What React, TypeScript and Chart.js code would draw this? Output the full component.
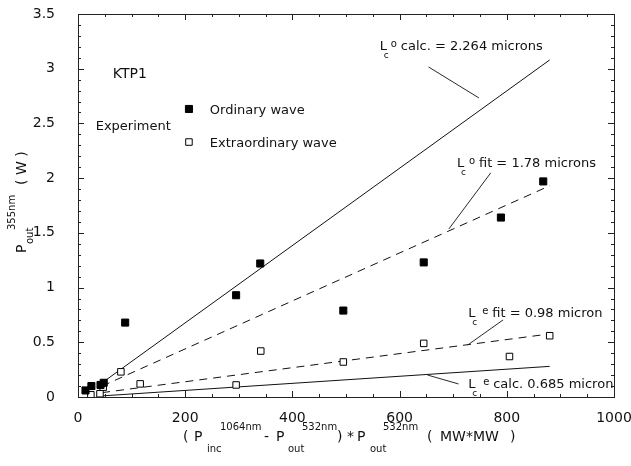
import React, { useEffect, useRef } from "react";
import { Chart, registerables } from "chart.js";
Chart.register(...registerables);

// ---- data ----
const ordinaryX = [14, 25, 42, 48, 88, 295, 340, 495, 645, 789, 868];
const ordinaryY = [0.06, 0.1, 0.11, 0.13, 0.68, 0.93, 1.22, 0.79, 1.23, 1.64, 1.97];
const extraX = [24, 41, 47, 80, 116, 295, 341, 495, 645, 805, 880];
const extraY = [0.02, 0.03, 0.09, 0.23, 0.12, 0.11, 0.42, 0.32, 0.49, 0.37, 0.56];

const calcOX = [45, 880];
const calcOY = [0.13, 3.08];
const fitOX = [45, 880];
const fitOY = [0.1, 1.93];
const fitEX = [45, 870];
const fitEY = [0.04, 0.57];
const calcEX = [45, 880];
const calcEY = [0.01, 0.28];

const leader1X = [654, 748];
const leader1Y = [3.016, 2.733];
const leader2X = [770, 692];
const leader2Y = [2.048, 1.536];
const leader3X = [793, 727];
const leader3Y = [0.704, 0.475];
const leader4X = [652, 710];
const leader4Y = [0.201, 0.119];

const legendX = [207];
const legendOrdY = [2.632];
const legendExtY = [2.33];

const xTickLabels = ["0", "200", "400", "600", "800", "1000"];
const yTickLabels = ["0", "0.5", "1", "1.5", "2", "2.5", "3", "3.5"];

const FONT = "'DejaVu Sans', Verdana, sans-serif";
const INK = "#111";

const zip = (xs: number[], ys: number[]) => xs.map((x, i) => ({ x, y: ys[i] }));

function txt(ctx: CanvasRenderingContext2D, s: string, x: number, y: number, size: number) {
  ctx.font = `${size}px ${FONT}`;
  ctx.fillText(s, x, y);
}

const decorPlugin = {
  id: "decor",
  afterDraw(chart: any) {
    const ctx: CanvasRenderingContext2D = chart.ctx;
    const { left, right, top, bottom } = chart.chartArea;
    const xs = chart.scales.x;
    const ys = chart.scales.y;
    ctx.save();
    ctx.strokeStyle = "#222";
    ctx.lineWidth = 1;
    // frame
    ctx.strokeRect(Math.round(left) + 0.5, Math.round(top) + 0.5, Math.round(right - left), Math.round(bottom - top));
    // ticks
    ctx.beginPath();
    for (let v = 0; v <= 1000; v += 50) {
      const px = Math.round(xs.getPixelForValue(v)) + 0.5;
      const len = v % 200 === 0 ? 6 : 3;
      ctx.moveTo(px, bottom);
      ctx.lineTo(px, bottom - len);
      ctx.moveTo(px, top);
      ctx.lineTo(px, top + len);
    }
    for (let k = 0; k <= 35; k++) {
      const py = Math.round(ys.getPixelForValue(k / 10)) + 0.5;
      const len = k % 5 === 0 ? 6 : 3;
      ctx.moveTo(left, py);
      ctx.lineTo(left + len, py);
      ctx.moveTo(right, py);
      ctx.lineTo(right - len, py);
    }
    ctx.stroke();

    ctx.fillStyle = INK;
    ctx.textBaseline = "alphabetic";
    ctx.textAlign = "left";
    const P = (x: number, y: number) => [xs.getPixelForValue(x), ys.getPixelForValue(y)];

    // free labels
    let [kx, ky] = P(65, 2.915);
    txt(ctx, "KTP1", kx, ky, 14);
    [kx, ky] = P(33, 2.44);
    txt(ctx, "Experiment", kx, ky, 13);
    [kx, ky] = P(246, 2.59);
    txt(ctx, "Ordinary wave", kx, ky, 13);
    [kx, ky] = P(246, 2.285);
    txt(ctx, "Extraordinary wave", kx, ky, 13);

    // Lc labels
    const lc = (dx: number, dy: number, sup: string, rest: string, off: number) => {
      const [x, y] = P(dx, dy);
      txt(ctx, "L", x, y, 13);
      txt(ctx, "c", x + 4, y + 8, 9);
      txt(ctx, sup, x + off - 10, y - 3, 10);
      txt(ctx, rest, x + off, y, 13);
    };
    lc(563, 3.171, "o", "calc. = 2.264 microns", 21);
    lc(707, 2.102, "o", "fit = 1.78 microns", 22);
    lc(728, 0.731, "e", "fit = 0.98 micron", 24);
    lc(728, 0.082, "e", "calc. 0.685 micron", 25);

    // x axis title
    const mb = 441, sb = 452, pb = 430;
    txt(ctx, "(", 183, mb, 14);
    txt(ctx, "P", 194, mb, 14);
    txt(ctx, "inc", 207, sb, 10);
    txt(ctx, "1064nm", 220, pb, 10);
    txt(ctx, "-", 264, mb, 14);
    txt(ctx, "P", 276, mb, 14);
    txt(ctx, "out", 288, sb, 10);
    txt(ctx, "532nm", 302, pb, 10);
    txt(ctx, ")", 337, mb, 14);
    txt(ctx, "*", 347, mb, 14);
    txt(ctx, "P", 357, mb, 14);
    txt(ctx, "out", 370, sb, 10);
    txt(ctx, "532nm", 383, pb, 10);
    txt(ctx, "(", 427, mb, 14);
    txt(ctx, "MW*MW", 440, mb, 14);
    txt(ctx, ")", 510, mb, 14);

    // y axis title (rotated)
    ctx.translate(26, 253);
    ctx.rotate(-Math.PI / 2);
    txt(ctx, "P", 0, 0, 14);
    txt(ctx, "out", 9, 7, 10);
    txt(ctx, "355nm", 23, -11, 10);
    txt(ctx, "( W )", 68, 0, 14);
    ctx.restore();
  },
};

export default function App() {
  const ref = useRef<HTMLCanvasElement>(null);
  useEffect(() => {
    document.body.style.margin = "0";
    const lineDs = (xs: number[], ys: number[], dash: number[] = [], w = 1) => ({
      data: zip(xs, ys),
      showLine: true,
      pointRadius: 0,
      borderColor: "#111",
      borderWidth: w,
      borderDash: dash,
      fill: false,
    });
    const chart = new Chart(ref.current!, {
      type: "scatter",
      data: {
        datasets: [
          {
            data: zip(ordinaryX, ordinaryY),
            pointStyle: "rect",
            pointRadius: 5,
            backgroundColor: "#000",
            borderColor: "#000",
            borderWidth: 1,
          },
          {
            data: zip(extraX, extraY),
            pointStyle: "rect",
            pointRadius: 4.6,
            backgroundColor: "#fff",
            borderColor: "#000",
            borderWidth: 1,
          },
          {
            data: zip(legendX, legendOrdY),
            pointStyle: "rect",
            pointRadius: 5,
            backgroundColor: "#000",
            borderColor: "#000",
            borderWidth: 1,
          },
          {
            data: zip(legendX, legendExtY),
            pointStyle: "rect",
            pointRadius: 4.6,
            backgroundColor: "#fff",
            borderColor: "#000",
            borderWidth: 1,
          },
          lineDs(calcOX, calcOY),
          lineDs(fitOX, fitOY, [8, 6]),
          lineDs(fitEX, fitEY, [8, 6]),
          lineDs(calcEX, calcEY),
          lineDs(leader1X, leader1Y, [], 0.9),
          lineDs(leader2X, leader2Y, [], 0.9),
          lineDs(leader3X, leader3Y, [], 0.9),
          lineDs(leader4X, leader4Y, [], 0.9),
        ] as any,
      },
      options: {
        animation: false,
        responsive: false,
        layout: { padding: { left: 0, top: 14, right: 17, bottom: 0 } },
        plugins: { legend: { display: false }, tooltip: { enabled: false } },
        scales: {
          x: {
            type: "linear",
            min: 0,
            max: 1000,
            grid: { display: false },
            border: { display: false },
            ticks: {
              stepSize: 200,
              autoSkip: false,
              maxRotation: 0,
              padding: 5,
              color: INK,
              font: { family: FONT, size: 14 },
              callback: (_v: any, i: number) => xTickLabels[i],
            },
            afterFit: (s: any) => {
              s.height = 69;
              s.paddingLeft = 0;
              s.paddingRight = 0;
            },
          },
          y: {
            type: "linear",
            min: 0,
            max: 3.5,
            grid: { display: false },
            border: { display: false },
            ticks: {
              stepSize: 0.5,
              autoSkip: false,
              padding: 15,
              color: INK,
              font: { family: FONT, size: 14 },
              callback: (_v: any, i: number) => yTickLabels[i],
            },
            afterFit: (s: any) => {
              s.width = 78;
              s.paddingTop = 0;
              s.paddingBottom = 0;
            },
          },
        },
      } as any,
      plugins: [decorPlugin],
    });
    return () => chart.destroy();
  }, []);
  return (
    <div style={{ position: "absolute", left: 0, top: 0, width: 631, height: 466 }}>
      <canvas ref={ref} width={631} height={466} style={{ width: 631, height: 466 }} />
    </div>
  );
}
